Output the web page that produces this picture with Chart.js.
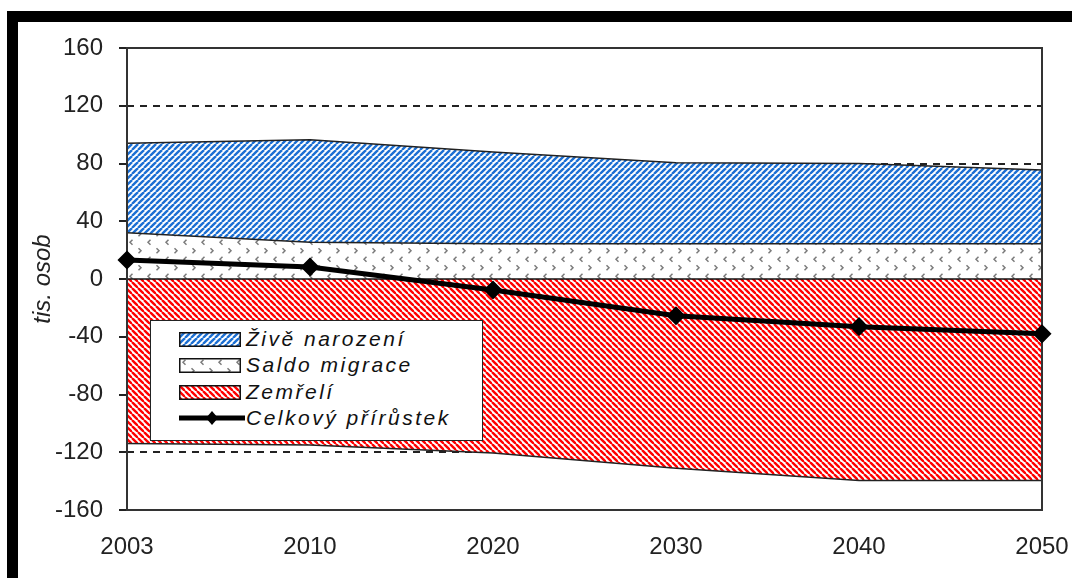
<!DOCTYPE html>
<html><head><meta charset="utf-8">
<script src="https://cdn.jsdelivr.net/npm/chart.js@4.4.1/dist/chart.umd.min.js"></script>
<style>
html,body{margin:0;padding:0;background:#fff;width:1072px;height:578px;overflow:hidden;}
#frame{position:absolute;left:7px;top:11px;right:0;bottom:0;border-top:11px solid #000;border-left:11px solid #000;}
#c{position:absolute;left:0;top:0;}
#legend{position:absolute;left:150px;top:320px;width:333px;height:121px;box-sizing:border-box;border:1.5px solid #222;background:#fff;font-family:'Liberation Sans',Arial,sans-serif;font-style:italic;font-size:21px;letter-spacing:2.5px;color:#111;}
.row{position:absolute;left:0;width:100%;height:26px;}
.row canvas{position:absolute;left:28px;}
.row span{position:absolute;left:95px;top:0;line-height:26px;white-space:nowrap;}
</style></head>
<body>
<div id="frame"></div>
<canvas id="c" width="1072" height="578"></canvas>
<div id="legend"></div>
<script>
// ---- data ----
const categories = ['2003', '2010', '2020', '2030', '2040', '2050'];
const births = [94, 96.5, 88, 80.5, 80, 75.5];
const migration = [32, 25.5, 24.5, 24.5, 24.5, 24.5];
const deaths = [-114, -115, -120.5, -131, -139.5, -139.5];
const totalIncrease = [13.2, 8.3, -7.6, -25.5, -33, -38];
const seriesNames = ['Živě narození', 'Saldo migrace', 'Zemřelí', 'Celkový přírůstek'];
const yMin = -160, yMax = 160, yStep = 40;
const yTitle = 'tis. osob';

// ---- patterns ----
function stripePattern(ctx, color, dir) {
  const s = 6;
  const c = document.createElement('canvas'); c.width = s; c.height = s;
  const g = c.getContext('2d');
  g.fillStyle = '#fff'; g.fillRect(0, 0, s, s);
  g.strokeStyle = color; g.lineWidth = 2.4;
  for (let k = -1; k <= 1; k++) {
    g.beginPath();
    if (dir > 0) { g.moveTo(k * s, s); g.lineTo(k * s + s, 0); }
    else { g.moveTo(k * s, 0); g.lineTo(k * s + s, s); }
    g.stroke();
  }
  return ctx.createPattern(c, 'repeat');
}
function chevronPattern(ctx) {
  const w = 18, h = 17;
  const c = document.createElement('canvas'); c.width = w; c.height = h;
  const g = c.getContext('2d');
  g.fillStyle = '#fff'; g.fillRect(0, 0, w, h);
  g.strokeStyle = '#7c7c7c'; g.lineWidth = 1.5;
  g.beginPath(); g.moveTo(6.5, 1.8); g.lineTo(4, 4.3); g.lineTo(6.5, 6.8); g.stroke();
  g.beginPath(); g.moveTo(12.5, 10.3); g.lineTo(15, 12.8); g.lineTo(12.5, 15.3); g.stroke();
  return ctx.createPattern(c, 'repeat');
}

const canvas = document.getElementById('c');
const ctx = canvas.getContext('2d');
const BLUE = '#1b6fd3', RED = '#ff0000';

Chart.defaults.font.family = "'Liberation Sans', Arial, sans-serif";
Chart.defaults.color = '#222';

const framePlugin = {
  id: 'frameAndZero',
  afterDatasetDraw(chart, args) {
    if (args.index !== 1) return;
    const { ctx, chartArea: a, scales: { y } } = chart;
    const y0 = y.getPixelForValue(0);
    ctx.save();
    ctx.strokeStyle = '#111'; ctx.lineWidth = 1.5;
    ctx.beginPath(); ctx.moveTo(a.left, y0); ctx.lineTo(a.right, y0); ctx.stroke();
    ctx.strokeStyle = '#333'; ctx.lineWidth = 2;
    ctx.strokeRect(a.left, a.top, a.right - a.left, a.bottom - a.top);
    ctx.restore();
  }
};

new Chart(canvas, {
  type: 'line',
  data: {
    labels: categories,
    datasets: [
      { label: seriesNames[0], data: births, fill: 'origin', backgroundColor: stripePattern(ctx, BLUE, 1),
        borderColor: '#222', borderWidth: 1.5, pointRadius: 0, tension: 0, order: 2 },
      { label: seriesNames[1], data: migration, fill: 'origin', backgroundColor: chevronPattern(ctx),
        borderColor: '#222', borderWidth: 1.5, pointRadius: 0, tension: 0, order: 1 },
      { label: seriesNames[2], data: deaths, fill: 'origin', backgroundColor: stripePattern(ctx, RED, -1),
        borderColor: '#222', borderWidth: 1.5, pointRadius: 0, tension: 0, order: 3 },
      { label: seriesNames[3], data: totalIncrease, fill: false, borderColor: '#000', borderWidth: 5,
        pointStyle: 'rectRot', pointRadius: 6, pointBackgroundColor: '#000', pointBorderColor: '#000',
        tension: 0, order: 0, clip: false }
    ]
  },
  options: {
    responsive: false,
    animation: false,
    devicePixelRatio: 1,
    layout: { padding: { top: 48, right: 30, bottom: 0, left: 0 } },
    plugins: { legend: { display: false }, tooltip: { enabled: false } },
    scales: {
      x: {
        type: 'category',
        offset: false,
        grid: { display: false, drawTicks: true, tickLength: 22 },
        border: { display: false },
        ticks: { font: { size: 24 }, color: '#222', padding: 1, maxRotation: 0, autoSkip: false },
        afterFit(s) { s.height = 68; }
      },
      y: {
        min: yMin, max: yMax,
        ticks: { stepSize: yStep, font: { size: 24 }, color: '#222', padding: 16 },
        grid: { color: '#222', lineWidth: 2, drawTicks: true, tickLength: 8, tickColor: '#222', tickWidth: 2, tickBorderDash: [] },
        border: { display: false, dash: [7, 6] },
        title: { display: true, text: yTitle, font: { size: 24, style: 'italic' }, color: '#222', padding: { top: 29, bottom: 0 } },
        afterFit(s) { s.width = 127; }
      }
    }
  },
  plugins: [framePlugin]
});

// ---- HTML legend inside the plot ----
const legend = document.getElementById('legend');
const rowCenters = [18, 44, 71, 97];
const swatchMakers = [
  g => stripePattern(g, BLUE, 1),
  g => chevronPattern(g),
  g => stripePattern(g, RED, -1),
  null
];
seriesNames.forEach((name, i) => {
  const row = document.createElement('div');
  row.className = 'row';
  row.style.top = (rowCenters[i] - 13) + 'px';
  const cv = document.createElement('canvas');
  const g = cv.getContext('2d');
  if (swatchMakers[i]) {
    cv.width = 62; cv.height = 15; cv.style.top = '6px';
    g.fillStyle = swatchMakers[i](g); g.fillRect(0, 0, 62, 15);
    g.strokeStyle = '#111'; g.lineWidth = 1.5; g.strokeRect(0.75, 0.75, 60.5, 13.5);
  } else {
    cv.width = 66; cv.height = 16; cv.style.top = '5px';
    g.strokeStyle = '#000'; g.lineWidth = 5;
    g.beginPath(); g.moveTo(0, 8); g.lineTo(66, 8); g.stroke();
    g.fillStyle = '#000';
    g.beginPath(); g.moveTo(33, 1); g.lineTo(39, 8); g.lineTo(33, 15); g.lineTo(27, 8); g.closePath(); g.fill();
  }
  const sp = document.createElement('span');
  sp.textContent = name;
  row.appendChild(cv); row.appendChild(sp);
  legend.appendChild(row);
});
</script>
</body></html>
